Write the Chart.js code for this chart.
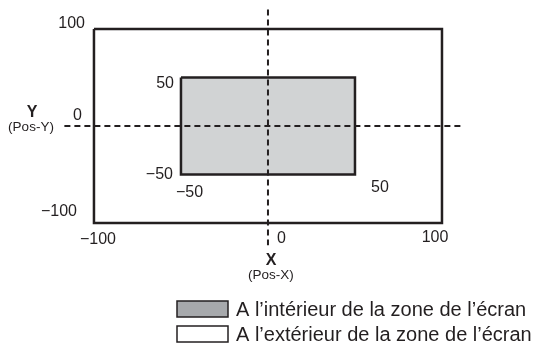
<!DOCTYPE html>
<html>
<head>
<meta charset="utf-8">
<script src="https://cdn.jsdelivr.net/npm/chart.js@4"></script>
<style>
  body { margin: 0; background: #fff; }
  canvas { display: block; }
</style>
</head>
<body>
<canvas id="posChart" width="553" height="346"></canvas>
<script>
// rectangles (screen area / outside)
const outerX = [-100, 100, 100, -100, -100];
const outerY = [100, 100, -100, -100, 100];
const innerX = [-50, 50, 50, -50, -50];
const innerY = [50, 50, -50, -50, 50];
// dashed axes extents
const hAxisX = [-117, 111];
const vAxisY = [120, -123];
// tick labels
const yTickValues = [100, 50, 0, -50, -100];
const yTickLabels = ['100', '50', '0', '\u221250', '\u2212100'];
const xTickValues = [-100, -50, 0, 50, 100];
const xTickLabels = ['\u2212100', '\u221250', '0', '50', '100'];
const axisTitles = ['Y', 'X'];
const axisSubtitles = ['(Pos-Y)', '(Pos-X)'];
const legendLabels = ['A l\u2019int\u00e9rieur de la zone de l\u2019\u00e9cran', 'A l\u2019ext\u00e9rieur de la zone de l\u2019\u00e9cran'];

const ink = '#231f20';
const font = '"Liberation Sans", Arial, sans-serif';

function pts(xs, ys) {
    return xs.map((x, i) => ({ x: x, y: ys[i] }));
}

// label offsets in px from the tick's pixel position
const yTickPos = [
    { dx: -9, dy: -5, ref: -100 },
    { dx: -7, dy: 6, ref: -50 },
    { dx: -12, dy: -10, ref: -100 },
    { dx: -8, dy: 0, ref: -50 },
    { dx: -17, dy: -11, ref: -100 }
];
const xTickPos = [
    { dx: 4, dy: 17, ref: -100, align: 'center' },
    { dx: -5, dy: 18, ref: -50, align: 'left' },
    { dx: 9, dy: 16, ref: -100, align: 'left' },
    { dx: 25, dy: 13, ref: -50, align: 'center' },
    { dx: -7, dy: 15, ref: -100, align: 'center' }
];

const labelPlugin = {
    id: 'labels',
    afterDraw(chart) {
        const ctx = chart.ctx;
        const xs = chart.scales.x, ys = chart.scales.y;
        ctx.save();
        ctx.fillStyle = ink;
        ctx.font = '16px ' + font;
        ctx.textBaseline = 'middle';

        yTickValues.forEach((v, i) => {
            const p = yTickPos[i];
            ctx.textAlign = 'right';
            ctx.fillText(yTickLabels[i], xs.getPixelForValue(p.ref) + p.dx, ys.getPixelForValue(v) + p.dy);
        });
        xTickValues.forEach((v, i) => {
            const p = xTickPos[i];
            ctx.textAlign = p.align;
            ctx.fillText(xTickLabels[i], xs.getPixelForValue(v) + p.dx, ys.getPixelForValue(p.ref) + p.dy);
        });

        // axis names
        const y0 = ys.getPixelForValue(0), x0 = xs.getPixelForValue(0);
        ctx.textAlign = 'center';
        ctx.font = 'bold 16px ' + font;
        ctx.fillText(axisTitles[0], 32, y0 - 13);
        ctx.fillText(axisTitles[1], x0 + 3, ys.getPixelForValue(-100) + 38);
        ctx.font = '13.5px ' + font;
        ctx.fillText(axisSubtitles[0], 31, y0 + 1);
        ctx.fillText(axisSubtitles[1], x0 + 3, ys.getPixelForValue(-100) + 52);

        // legend
        const lx = 177, ly = [301, 326];
        ctx.lineWidth = 1.5;
        ctx.strokeStyle = ink;
        ctx.textAlign = 'left';
        ctx.font = '20px ' + font;
        ly.forEach((y, i) => {
            ctx.fillStyle = i === 0 ? '#a7a9ac' : '#ffffff';
            ctx.fillRect(lx, y, 51, 16);
            ctx.strokeRect(lx, y, 51, 16);
            ctx.fillStyle = ink;
            ctx.fillText(legendLabels[i], 236, y + 9);
        });
        ctx.restore();
    }
};

new Chart(document.getElementById('posChart'), {
    type: 'scatter',
    data: {
        datasets: [
            { data: pts(hAxisX, [0, 0]), showLine: true, borderColor: ink, borderWidth: 2, borderDash: [6, 4], pointRadius: 0 },
            { data: pts([0, 0], vAxisY), showLine: true, borderColor: ink, borderWidth: 2, borderDash: [6, 4], pointRadius: 0 },
            { data: pts(innerX, innerY), showLine: true, borderColor: ink, borderWidth: 2.5, pointRadius: 0,
              fill: 'shape', backgroundColor: '#d1d3d4', borderJoinStyle: 'miter' },
            { data: pts(outerX, outerY), showLine: true, borderColor: ink, borderWidth: 2.5, pointRadius: 0,
              fill: false, borderJoinStyle: 'miter' }
        ]
    },
    options: {
        responsive: false,
        animation: false,
        layout: { padding: 0 },
        scales: {
            x: { type: 'linear', min: -154.0, max: 163.8, display: false },
            y: { type: 'linear', min: -226.8, max: 129.9, display: false }
        },
        plugins: { legend: { display: false }, tooltip: { enabled: false } }
    },
    plugins: [labelPlugin]
});
</script>
</body>
</html>
